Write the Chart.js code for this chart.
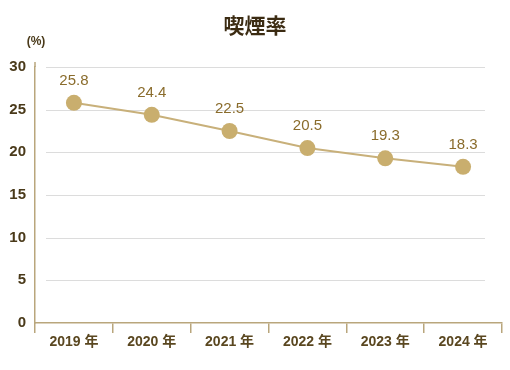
<!DOCTYPE html>
<html><head><meta charset="utf-8">
<script src="https://cdn.jsdelivr.net/npm/chart.js@4"></script>
<style>html,body{margin:0;padding:0;background:#fff}#wrap{width:510px;height:370px}</style>
</head><body><div id="wrap"><canvas id="c" width="510" height="370"></canvas></div>
<script>
const titleText = "喫煙率";
const unitText = "(%)";
const categories = ["2019 年","2020 年","2021 年","2022 年","2023 年","2024 年"];
const smokingRate = [25.8, 24.4, 22.5, 20.5, 19.3, 18.3];
const yTicks = [0,5,10,15,20,25,30];

const decor = {
  id: 'decor',
  beforeDatasetsDraw(chart) {
    const ctx = chart.ctx, y = chart.scales.y, a = chart.chartArea;
    ctx.save();
    ctx.strokeStyle = '#dcdcdc'; ctx.lineWidth = 1;
    yTicks.forEach(v => { if (v === 0) return;
      const py = Math.round(y.getPixelForValue(v)) + 0.5;
      ctx.beginPath(); ctx.moveTo(a.left + 11, py); ctx.lineTo(a.right - 17, py); ctx.stroke(); });
    ctx.strokeStyle = '#b9a67c'; ctx.lineWidth = 1.5;
    ctx.beginPath(); ctx.moveTo(a.left, a.top - 5); ctx.lineTo(a.left, a.top); ctx.stroke();
    ctx.restore();
  },
  afterDatasetsDraw(chart) {
    const ctx = chart.ctx;
    ctx.save();
    ctx.font = "15px 'Liberation Sans', Arial, sans-serif";
    ctx.fillStyle = '#8a6c2c'; ctx.textAlign = 'center'; ctx.textBaseline = 'middle';
    chart.getDatasetMeta(0).data.forEach((p, i) => {
      ctx.fillText(smokingRate[i].toFixed(1), p.x, p.y - 22);
    });
    ctx.fillStyle = '#3b2b12';
    ctx.font = "bold 21px 'Noto Sans CJK JP', sans-serif";
    ctx.fillText(titleText, 255, 25);
    ctx.font = "bold 12px 'Liberation Sans', Arial, sans-serif";
    ctx.fillStyle = '#4a3a1a';
    ctx.fillText(unitText, 36, 42);
    ctx.restore();
  }
};

new Chart(document.getElementById('c'), {
  type: 'line',
  data: { labels: categories, datasets: [{
    data: smokingRate, borderColor: '#c8b07a', borderWidth: 2,
    pointRadius: 8, pointHoverRadius: 8, pointBackgroundColor: '#c9ae6e', pointBorderWidth: 0,
    tension: 0, clip: false }] },
  options: {
    responsive: false, animation: false, devicePixelRatio: 1,
    layout: { padding: { top: 67, right: 3, left: 0, bottom: 0 } },
    plugins: { legend: { display: false }, tooltip: { enabled: false } },
    scales: {
      x: {
        offset: true,
        grid: { offset: true, drawOnChartArea: false, drawTicks: true, tickLength: 10, color: '#b9a67c', lineWidth: 1.5 },
        border: { display: true, color: '#b9a67c', width: 1.5 },
        ticks: { color: '#5a4720', padding: 1, font: { family: "'Liberation Sans', Arial, 'Noto Sans CJK JP', sans-serif", size: 14, weight: 'bold' } },
        afterFit(s) { s.height = 47; }
      },
      y: {
        min: 0, max: 30,
        afterBuildTicks(s) { s.ticks = yTicks.map(v => ({ value: v })); },
        grid: { display: false, drawTicks: false },
        border: { display: true, color: '#b9a67c', width: 1.5 },
        ticks: { color: '#4a3a1a', padding: 9, font: { family: "'Liberation Sans', Arial, sans-serif", size: 15, weight: 'bold' } },
        afterFit(s) { s.width = 35; }
      }
    }
  },
  plugins: [decor]
});
</script></body></html>
